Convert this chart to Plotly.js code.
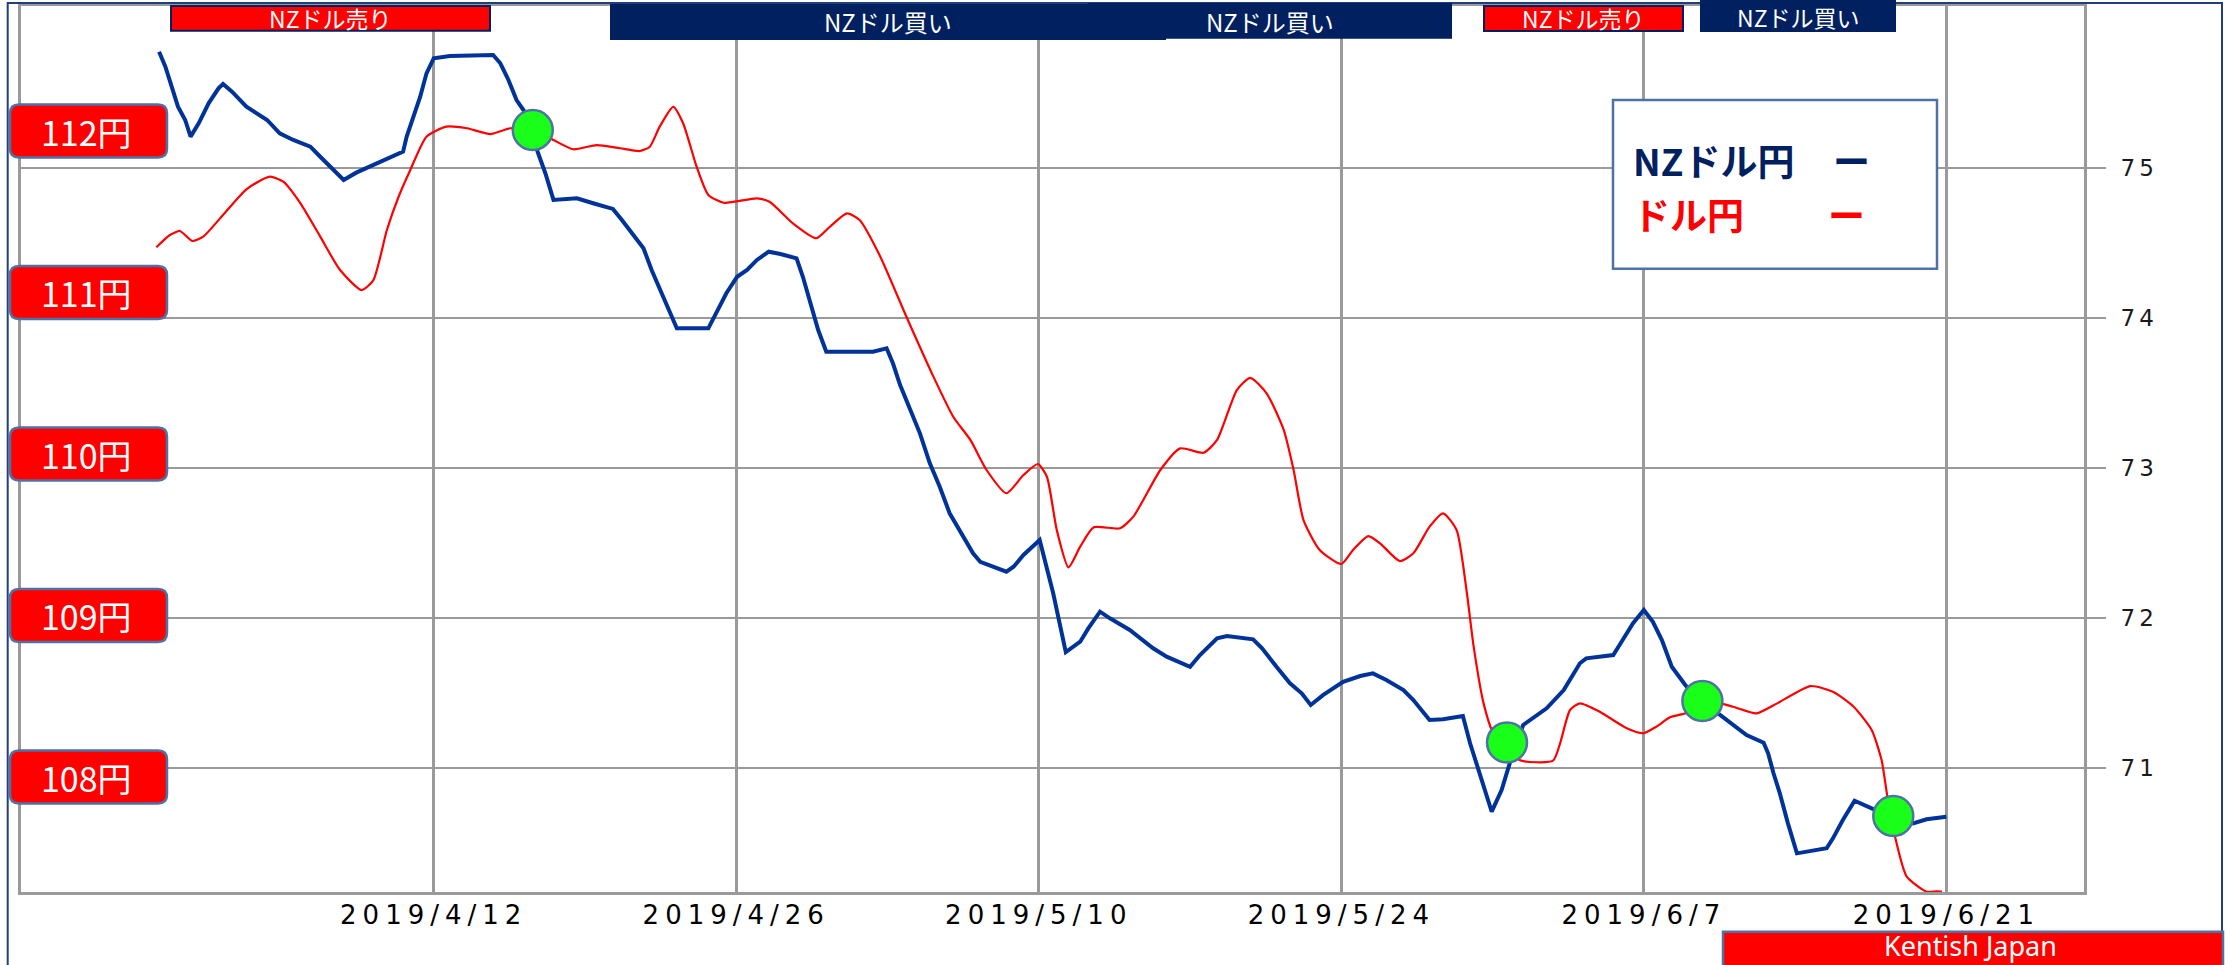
<!DOCTYPE html>
<html>
<head>
<meta charset="utf-8">
<script src="https://cdn.plot.ly/plotly-3.0.1.min.js"></script>
<style>
html,body{margin:0;padding:0;background:#ffffff;}
#chart{width:2236px;height:965px;}
.xtick text{letter-spacing:6px;}
.ytick text{letter-spacing:4px;}
</style>
</head>
<body>
<div id="chart"></div>
<script>
// ---------------- DATA ----------------
// NZD/JPY (right axis)
const nzdDates = [
'2019-03-30 07:00','2019-03-30 14:00','2019-03-30 21:00','2019-03-31 04:00','2019-03-31 12:00','2019-03-31 18:00',
'2019-04-01 03:00','2019-04-01 14:00','2019-04-02 01:00','2019-04-02 06:00','2019-04-02 16:00','2019-04-03 08:00',
'2019-04-04 07:00','2019-04-04 21:00','2019-04-05 12:00','2019-04-06 07:00','2019-04-06 18:00','2019-04-07 08:00',
'2019-04-07 20:00','2019-04-08 10:00','2019-04-09 05:00','2019-04-09 23:00','2019-04-10 14:00','2019-04-10 18:00',
'2019-04-11 01:00','2019-04-11 09:00','2019-04-11 16:00','2019-04-12 00:00','2019-04-12 18:00','2019-04-14 18:00',
'2019-04-15 02:00','2019-04-15 11:00','2019-04-15 20:00','2019-04-16 05:00','2019-04-16 20:00','2019-04-17 04:00',
'2019-04-17 13:00','2019-04-18 07:00','2019-04-18 15:00','2019-04-19 09:00','2019-04-20 07:00','2019-04-20 17:00',
'2019-04-21 06:00','2019-04-21 17:00','2019-04-22 02:00','2019-04-22 13:00','2019-04-22 22:00','2019-04-23 06:00',
'2019-04-24 17:00','2019-04-25 02:00','2019-04-25 13:00','2019-04-26 01:00','2019-04-26 12:00','2019-04-26 23:00',
'2019-04-27 12:00','2019-04-28 01:00','2019-04-28 19:00','2019-04-29 02:00','2019-04-29 12:00','2019-04-29 19:00',
'2019-04-30 04:00','2019-05-02 08:00','2019-05-02 23:00','2019-05-03 06:00','2019-05-03 14:00','2019-05-04 01:00',
'2019-05-04 12:00','2019-05-04 23:00','2019-05-05 10:00','2019-05-05 21:00','2019-05-06 12:00','2019-05-06 23:00',
'2019-05-07 07:00','2019-05-08 12:00','2019-05-08 20:00','2019-05-09 07:00','2019-05-10 01:00','2019-05-10 07:00',
'2019-05-10 16:00','2019-05-11 06:00','2019-05-11 22:00','2019-05-12 07:00','2019-05-12 20:00','2019-05-13 07:00',
'2019-05-14 05:00','2019-05-15 07:00','2019-05-15 22:00','2019-05-17 00:00','2019-05-17 11:00','2019-05-18 06:00',
'2019-05-18 17:00','2019-05-19 22:00','2019-05-20 08:00','2019-05-21 00:00','2019-05-21 15:00','2019-05-22 04:00',
'2019-05-22 14:00','2019-05-23 04:00','2019-05-24 02:00','2019-05-24 21:00','2019-05-25 11:00','2019-05-26 02:00',
'2019-05-26 21:00','2019-05-27 08:00','2019-05-28 02:00','2019-05-28 17:00','2019-05-29 15:00','2019-05-29 23:00',
'2019-05-30 10:00','2019-05-30 18:00','2019-05-30 23:00','2019-05-31 10:00','2019-05-31 19:00','2019-06-01 10:00',
'2019-06-02 12:00','2019-06-03 07:00','2019-06-04 01:00','2019-06-04 08:00','2019-06-05 14:00','2019-06-05 21:00',
'2019-06-06 12:00','2019-06-07 00:00','2019-06-07 10:00','2019-06-07 20:00','2019-06-08 07:00','2019-06-08 22:00',
'2019-06-09 14:00','2019-06-10 13:00','2019-06-11 07:00','2019-06-11 18:00','2019-06-12 13:00','2019-06-12 18:00',
'2019-06-13 00:00','2019-06-13 07:00','2019-06-13 16:00','2019-06-14 00:00','2019-06-14 02:00','2019-06-15 11:00',
'2019-06-15 18:00','2019-06-16 05:00','2019-06-16 18:00','2019-06-17 13:00','2019-06-18 13:00','2019-06-19 11:00',
'2019-06-20 02:00','2019-06-21 00:00'
];
const nzdValues = [
75.775,75.675,75.542,75.409,75.32,75.209,
75.298,75.431,75.531,75.56,75.509,75.409,
75.32,75.231,75.187,75.142,75.075,74.987,
74.92,74.969,75.02,75.065,75.109,75.209,
75.342,75.475,75.631,75.731,75.747,75.753,
75.698,75.587,75.453,75.375,75.098,74.965,
74.787,74.791,74.798,74.765,74.727,74.653,
74.553,74.465,74.32,74.165,74.031,73.931,
73.931,74.031,74.165,74.275,74.32,74.387,
74.442,74.427,74.398,74.275,74.075,73.92,
73.775,73.775,73.798,73.698,73.553,73.387,
73.231,73.031,72.875,72.698,72.542,72.431,
72.375,72.309,72.342,72.42,72.52,72.387,
72.165,71.773,71.842,71.931,72.042,71.998,
71.92,71.798,71.742,71.675,71.753,71.865,
71.88,71.858,71.798,71.675,71.565,71.498,
71.42,71.487,71.575,71.613,71.631,71.587,
71.52,71.453,71.32,71.325,71.347,71.165,
70.965,70.809,70.709,70.853,71.031,71.287,
71.398,71.52,71.698,71.731,71.753,71.82,
71.965,72.053,71.975,71.853,71.675,71.553,
71.442,71.353,71.275,71.22,71.169,71.098,
70.965,70.831,70.631,70.475,70.431,70.465,
70.531,70.653,70.782,70.731,70.675,70.631,
70.658,70.675
];

// USD/JPY (left, label axis)
const usdDates = [
'2019-03-30 04:00','2019-03-30 19:00','2019-03-31 06:00','2019-03-31 12:00','2019-03-31 20:00','2019-04-01 08:00',
'2019-04-02 06:00','2019-04-03 08:00','2019-04-04 10:00','2019-04-05 01:00','2019-04-05 20:00','2019-04-06 18:00',
'2019-04-07 16:00','2019-04-08 16:00','2019-04-09 05:00','2019-04-09 20:00','2019-04-10 09:00','2019-04-10 22:00',
'2019-04-11 16:00','2019-04-12 14:00','2019-04-13 13:00','2019-04-14 15:00','2019-04-15 13:00','2019-04-16 14:00',
'2019-04-17 13:00','2019-04-18 11:00','2019-04-19 13:00','2019-04-20 15:00','2019-04-21 13:00','2019-04-22 00:00',
'2019-04-22 11:00','2019-04-23 02:00','2019-04-23 13:00','2019-04-24 04:00','2019-04-24 17:00','2019-04-25 10:00',
'2019-04-26 23:00','2019-04-27 13:00','2019-04-28 15:00','2019-04-29 17:00','2019-04-30 08:00','2019-05-01 03:00',
'2019-05-01 17:00','2019-05-02 16:00','2019-05-03 21:00','2019-05-05 03:00','2019-05-06 01:00','2019-05-06 20:00',
'2019-05-07 14:00','2019-05-08 12:00','2019-05-09 07:00','2019-05-09 23:00','2019-05-10 09:00','2019-05-10 20:00',
'2019-05-11 09:00','2019-05-11 22:00','2019-05-12 13:00','2019-05-13 18:00','2019-05-14 09:00','2019-05-15 15:00',
'2019-05-16 13:00','2019-05-17 15:00','2019-05-18 06:00','2019-05-19 04:00','2019-05-19 19:00','2019-05-20 13:00',
'2019-05-21 08:00','2019-05-21 19:00','2019-05-22 06:00','2019-05-23 00:00','2019-05-24 00:00','2019-05-24 13:00',
'2019-05-25 06:00','2019-05-25 19:00','2019-05-26 17:00','2019-05-27 08:00','2019-05-28 02:00','2019-05-28 17:00',
'2019-05-29 08:00','2019-05-29 19:00','2019-05-30 03:00','2019-05-30 14:00','2019-05-31 01:00','2019-05-31 16:00',
'2019-06-01 06:00','2019-06-02 19:00','2019-06-03 03:00','2019-06-03 14:00','2019-06-04 01:00','2019-06-04 23:00',
'2019-06-06 05:00','2019-06-06 23:00','2019-06-07 14:00','2019-06-08 05:00','2019-06-09 00:00','2019-06-09 18:00',
'2019-06-11 03:00','2019-06-12 05:00','2019-06-13 04:00','2019-06-14 17:00','2019-06-15 18:00','2019-06-16 17:00',
'2019-06-17 13:00','2019-06-18 00:00','2019-06-18 07:00','2019-06-18 15:00','2019-06-19 04:00','2019-06-20 02:00',
'2019-06-20 13:00','2019-06-20 19:00'
];
const usdValues = [
111.280,111.356,111.381,111.356,111.319,111.346,
111.480,111.639,111.717,111.686,111.552,111.346,
111.139,111.015,111.077,111.387,111.593,111.759,
111.965,112.027,112.017,111.981,112.017,112.006,
111.944,111.887,111.913,111.893,111.876,111.903,
112.027,112.150,112.048,111.779,111.604,111.556,
111.583,111.562,111.428,111.336,111.407,111.490,
111.449,111.222,110.850,110.479,110.231,110.087,
109.901,109.757,109.870,109.938,109.859,109.529,
109.298,109.426,109.546,109.540,109.612,109.901,
110.035,110.008,110.087,110.396,110.472,110.376,
110.149,109.901,109.591,109.406,109.319,109.406,
109.492,109.447,109.337,109.385,109.550,109.633,
109.529,109.158,108.807,108.456,108.271,108.209,
108.105,108.101,108.209,108.415,108.456,108.404,
108.302,108.271,108.312,108.370,108.398,108.477,
108.435,108.394,108.456,108.563,108.528,108.435,
108.291,108.105,107.858,107.630,107.383,107.290,
107.292,107.290
];

// crossover signals (green dots)
const signalDates = ['2019-04-16 14:00','2019-05-31 16:00','2019-06-09 17:00','2019-06-18 13:00'];
const signalRates = [112.006,108.214,108.471,107.758];

// axis ticks / labels
const xTickDates = ['2019-04-12','2019-04-26','2019-05-10','2019-05-24','2019-06-07','2019-06-21'];
const nzdTicks = [71,72,73,74,75];
const yenLevels = [112,111,110,109,108];
const yenLabels = ['112円','111円','110円','109円','108円'];

// signal banners along the top
const bannerTexts = ['NZドル売り','NZドル買い','NZドル買い','NZドル売り','NZドル買い'];
const legendNames = ['NZドル円','ドル円'];
const creditText = 'Kentish Japan';

// ---------------- LAYOUT HELPERS ----------------
const FIG_W = 2236, FIG_H = 965;
const PL = 21, PR = 2084, PT = 6, PB = 892;
const px = x => (x - PL) / (PR - PL);
const py = y => (PB - y) / (PB - PT);

const NAVY = '#002060', RED = '#ff0000', STEEL = '#4f72a6', GRID = '#9a9a9a';
const JP = 'Noto Sans CJK JP, Noto Sans, sans-serif';

const traces = [
  {x: nzdDates, y: nzdValues, yaxis: 'y', type: 'scatter', mode: 'lines',
   line: {color: '#003399', width: 4}, name: legendNames[0], hoverinfo: 'skip'},
  {x: usdDates, y: usdValues, yaxis: 'y2', type: 'scatter', mode: 'lines',
   line: {color: RED, width: 2.2, shape: 'spline', smoothing: 0.6}, name: legendNames[1], hoverinfo: 'skip'},
  {x: signalDates, y: signalRates, yaxis: 'y2', type: 'scatter', mode: 'markers',
   marker: {size: 40, color: '#1aff1a', line: {color: STEEL, width: 2.5}}, hoverinfo: 'skip'}
];

const shapes = [];
const annotations = [];

// outer frame
shapes.push({type: 'rect', xref: 'paper', yref: 'paper', x0: px(7.7), x1: px(2222), y0: py(1010), y1: py(3),
  line: {color: '#1f3f7a', width: 2}, fillcolor: 'rgba(0,0,0,0)', layer: 'above'});

// banners [x0,x1,y0,y1 pixels, fill, textX, textY, fontsize]
const bannerGeom = [
  [171, 490, 6, 30.7, RED, 330.5, 18.5, 23],
  [611, 1165, 5, 39, NAVY, 888, 22, 24],
  [1089, 1451, 4, 37.7, NAVY, 1270, 22, 24],
  [1484, 1683, 6, 31, RED, 1583.5, 18.5, 23],
  [1701, 1895, 0, 31, NAVY, 1798, 17, 23]
];
bannerGeom.forEach((g, i) => {
  shapes.push({type: 'rect', xref: 'paper', yref: 'paper', x0: px(g[0]), x1: px(g[1]), y0: py(g[3]), y1: py(g[2]),
    fillcolor: g[4], line: {color: NAVY, width: 2}, layer: 'above'});
  annotations.push({xref: 'paper', yref: 'paper', x: px(g[5]), y: py(g[6]), text: bannerTexts[i], showarrow: false,
    xanchor: 'center', yanchor: 'middle', font: {family: JP, size: g[7], color: '#ffffff'}});
});

// legend box
shapes.push({type: 'rect', xref: 'paper', yref: 'paper', x0: px(1613), x1: px(1937), y0: py(268.7), y1: py(100),
  fillcolor: '#ffffff', line: {color: STEEL, width: 2.5}, layer: 'above'});
annotations.push({xref: 'paper', yref: 'paper', x: px(1631), y: py(160), xanchor: 'left', yanchor: 'middle',
  text: '<b>' + legendNames[0] + '</b>', showarrow: false, font: {family: JP, size: 37, color: NAVY}});
annotations.push({xref: 'paper', yref: 'paper', x: px(1851), y: py(160), xanchor: 'center', yanchor: 'middle',
  text: '<b>ー</b>', showarrow: false, font: {family: JP, size: 37, color: NAVY}});
annotations.push({xref: 'paper', yref: 'paper', x: px(1631), y: py(214), xanchor: 'left', yanchor: 'middle',
  text: '<b>' + legendNames[1] + '</b>', showarrow: false, font: {family: JP, size: 37, color: RED}});
annotations.push({xref: 'paper', yref: 'paper', x: px(1846), y: py(214), xanchor: 'center', yanchor: 'middle',
  text: '<b>ー</b>', showarrow: false, font: {family: JP, size: 37, color: RED}});

// yen labels on the left (rounded boxes anchored to the yen axis)
const rr = 'M-2,-26.5 L137,-26.5 Q146,-26.5 146,-17.5 L146,17.5 Q146,26.5 137,26.5 L-2,26.5 Q-11,26.5 -11,17.5 L-11,-17.5 Q-11,-26.5 -2,-26.5 Z';
yenLevels.forEach((v, i) => {
  shapes.push({type: 'path', xref: 'paper', yref: 'y2', xsizemode: 'pixel', ysizemode: 'pixel',
    xanchor: 0, yanchor: v, path: rr, fillcolor: RED, line: {color: STEEL, width: 2.5}, layer: 'above'});
  annotations.push({xref: 'paper', yref: 'y2', x: 0, y: v, xshift: 65, text: yenLabels[i], showarrow: false,
    xanchor: 'center', yanchor: 'middle', font: {family: JP, size: 34, color: '#ffffff'}});
});

// credit box
shapes.push({type: 'rect', xref: 'paper', yref: 'paper', x0: px(1723), x1: px(2223), y0: py(990), y1: py(931.7),
  fillcolor: RED, line: {color: STEEL, width: 2.5}, layer: 'above'});
annotations.push({xref: 'paper', yref: 'paper', x: px(1970), y: py(945), xanchor: 'center', yanchor: 'middle',
  text: creditText, showarrow: false, font: {family: 'Noto Sans, Liberation Sans, sans-serif', size: 27, color: '#ffffff'}});

const layout = {
  width: FIG_W, height: FIG_H,
  margin: {l: PL, r: FIG_W - PR, t: PT, b: FIG_H - PB, pad: 0},
  paper_bgcolor: '#ffffff', plot_bgcolor: '#ffffff',
  showlegend: false,
  xaxis: {
    type: 'date', range: ['2019-03-23 21:39', '2019-06-27 08:49'],
    tickvals: xTickDates, tickformat: '%Y/%-m/%-d',
    showgrid: true, gridcolor: GRID, gridwidth: 3,
    showline: true, linecolor: GRID, linewidth: 3, mirror: true,
    ticks: '', zeroline: false, automargin: false, ticklabelstandoff: -2,
    tickfont: {family: 'DejaVu Sans, Liberation Sans, sans-serif', size: 26, color: '#000000'}
  },
  yaxis: {
    range: [70.1733, 76.08], side: 'right', tickvals: nzdTicks,
    showgrid: true, gridcolor: GRID, gridwidth: 2.5,
    showline: true, linecolor: GRID, linewidth: 3, mirror: true,
    ticks: 'outside', ticklen: 19, tickwidth: 2.5, tickcolor: GRID,
    ticklabelstandoff: 10, zeroline: false, automargin: false,
    tickfont: {family: 'DejaVu Sans, Liberation Sans, sans-serif', size: 23, color: '#1a1a1a'}
  },
  yaxis2: {
    range: [107.288, 112.774], overlaying: 'y', side: 'left',
    showgrid: false, showticklabels: false, ticks: '', showline: false, zeroline: false, automargin: false
  },
  shapes: shapes,
  annotations: annotations
};

Plotly.newPlot('chart', traces, layout, {displayModeBar: false, staticPlot: true});
</script>
</body>
</html>
